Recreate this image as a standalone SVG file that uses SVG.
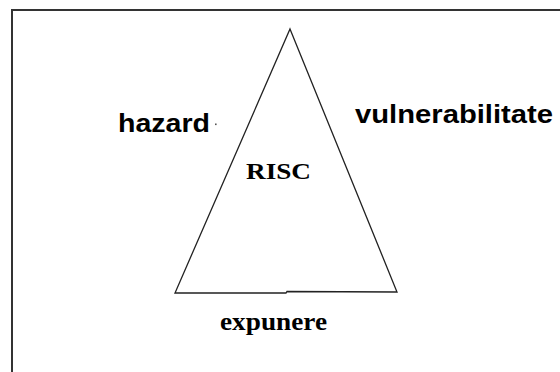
<svg xmlns="http://www.w3.org/2000/svg" width="560" height="372" viewBox="0 0 560 372">
<style>
.frame{fill:none;stroke:#333;stroke-width:2}
.tri{fill:none;stroke:#222;stroke-width:1.3;stroke-linejoin:miter}
.sans{font-family:"Liberation Sans",Arial,sans-serif;font-weight:bold;fill:#000}
.serif{font-family:"Liberation Serif","Times New Roman",serif;font-weight:bold;fill:#000}
</style>
<rect width="560" height="372" fill="#fff"/>
<path class="frame" d="M12,372 V10 H560"/>
<g id="triangle">
<path class="tri" d="M290,29 L397,292 L287,291.5 L286,293 L175,293 Z"/>
</g>
<g id="hazard">
<text class="sans" x="118" y="131.5" font-size="25.5" textLength="92" lengthAdjust="spacingAndGlyphs">hazard</text>
<rect x="215" y="123.5" width="1.6" height="1.6" fill="#555"/>
</g>
<g id="vulnerabilitate">
<text class="sans" x="355" y="123" font-size="25" textLength="198" lengthAdjust="spacingAndGlyphs">vulnerabilitate</text>
</g>
<g id="risc">
<text class="serif" x="246" y="178.5" font-size="24" textLength="65" lengthAdjust="spacingAndGlyphs">RISC</text>
</g>
<g id="expunere">
<text class="serif" x="220" y="330" font-size="25.5" textLength="107" lengthAdjust="spacingAndGlyphs">expunere</text>
</g>
</svg>
